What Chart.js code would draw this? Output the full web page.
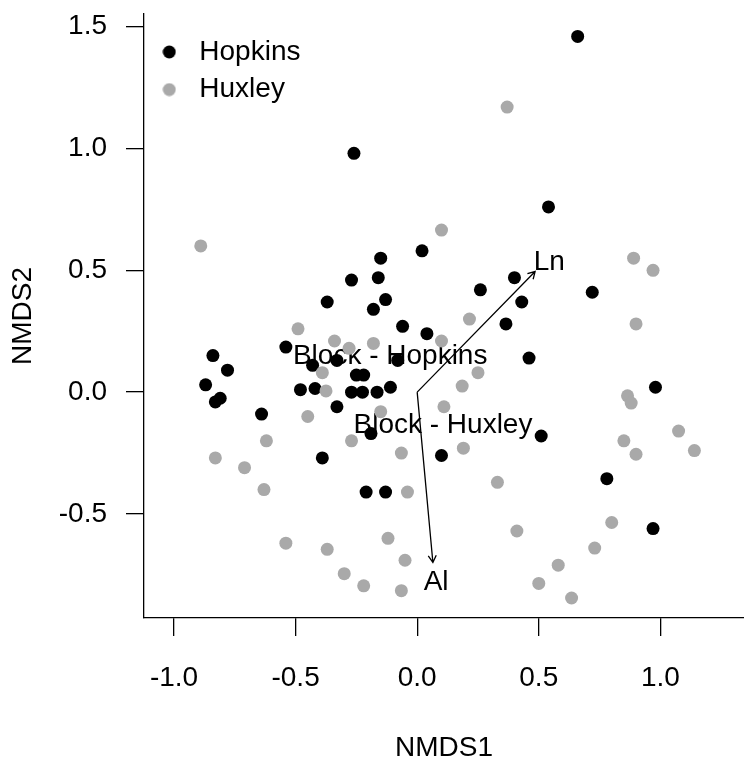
<!DOCTYPE html>
<html>
<head>
<meta charset="utf-8">
<script src="https://cdn.jsdelivr.net/npm/chart.js@4.4.1/dist/chart.umd.min.js"></script>
<style>
  html, body { margin: 0; padding: 0; background: #fff; overflow: hidden; }
  #wrap { width: 744px; height: 760px; }
</style>
</head>
<body>
<div id="wrap"><canvas id="c" width="744" height="760"></canvas></div>
<script>
// ---- data ----
const seriesNames = ['Hopkins', 'Huxley'];
const seriesColors = ['#000000', '#A9A9A9'];

const hopkinsX = [0.66, -0.26, 0.54, 0.02, -0.15, -0.27, -0.16, -0.37, -0.13, -0.18,
  -0.06, 0.04, -0.54, -0.08, -0.84, -0.78, -0.87, -0.83, -0.81, -0.64,
  -0.48, -0.42, -0.43, -0.33, -0.25, -0.22, -0.27, -0.225, -0.165, -0.11,
  -0.33, -0.19, -0.39, -0.21, -0.13, 0.10, 0.26, 0.40, 0.43, 0.365,
  0.46, 0.72, 0.51, 0.78, 0.98, 0.97];
const hopkinsY = [1.46, 0.98, 0.76, 0.58, 0.55, 0.46, 0.47, 0.37, 0.38, 0.34,
  0.27, 0.24, 0.185, 0.13, 0.15, 0.09, 0.03, -0.04, -0.025, -0.09,
  0.01, 0.015, 0.11, 0.13, 0.07, 0.07, 0.0, 0.0, 0.0, 0.02,
  -0.06, -0.17, -0.27, -0.41, -0.41, -0.26, 0.42, 0.47, 0.37, 0.28,
  0.14, 0.41, -0.18, -0.355, 0.02, -0.56];

const huxleyX = [0.37, -0.89, 0.10, -0.49, -0.34, -0.28, -0.18, 0.10, -0.39, -0.375,
  -0.45, -0.15, 0.11, 0.185, 0.25, 0.215, -0.27, -0.62, -0.83, -0.71,
  -0.065, 0.19, -0.63, -0.04, 0.33, -0.12, -0.54, -0.37, -0.05, -0.30,
  -0.22, -0.065, 0.41, 0.80, 0.73, 0.58, 0.50, 0.635, 0.89, 0.97,
  0.90, 0.865, 0.88, 0.85, 0.90, 1.075, 1.14];
const huxleyY = [1.17, 0.60, 0.665, 0.26, 0.21, 0.18, 0.20, 0.21, 0.08, 0.005,
  -0.10, -0.08, -0.06, 0.025, 0.08, 0.30, -0.20, -0.20, -0.27, -0.31,
  -0.25, -0.23, -0.40, -0.41, -0.37, -0.60, -0.62, -0.645, -0.69, -0.745,
  -0.795, -0.815, -0.57, -0.535, -0.64, -0.71, -0.785, -0.845, 0.55, 0.50,
  0.28, -0.015, -0.045, -0.20, -0.255, -0.16, -0.24];

// fitted vectors (arrows from the origin) and their labels
const vectorNames = ['Ln', 'Al'];
const vectorX = [0.485, 0.0646];
const vectorY = [0.495, -0.699];
const vectorLabelX = [0.543, 0.078];
const vectorLabelY = [0.534, -0.780];

// group (block) labels
const groupLabels = ['Block - Hopkins', 'Block - Huxley'];
const groupLabelX = [-0.111, 0.106];
const groupLabelY = [0.148, -0.138];

// axes
const xTicks = [-1.0, -0.5, 0.0, 0.5, 1.0];
const yTicks = [-0.5, 0.0, 0.5, 1.0, 1.5];
const xRange = [-1.1234, 1.344];
const yRange = [-0.927, 1.552];
const xTitle = 'NMDS1';
const yTitle = 'NMDS2';

// ---- chart ----
const FONT = "'Liberation Sans', Arial, Helvetica, sans-serif";
Chart.defaults.font.family = FONT;
Chart.defaults.font.size = 28;
Chart.defaults.color = '#000';

function toPoints(xs, ys) { return xs.map((x, i) => ({ x: x, y: ys[i] })); }

function makeDot(color) {
  const c = document.createElement('canvas');
  c.width = 14; c.height = 14;
  const g = c.getContext('2d');
  g.fillStyle = color;
  g.beginPath(); g.arc(7, 7, 6.5, 0, Math.PI * 2); g.fill();
  return c;
}

const annotations = {
  id: 'envfitAnnotations',
  beforeDatasetsDraw(chart) {
    const ctx = chart.ctx;
    const xs = chart.scales.x, ys = chart.scales.y;
    ctx.save();
    ctx.strokeStyle = '#000';
    ctx.lineWidth = 1.3;
    const x0 = xs.getPixelForValue(0), y0 = ys.getPixelForValue(0);
    vectorNames.forEach((n, i) => {
      const x1 = xs.getPixelForValue(vectorX[i]);
      const y1 = ys.getPixelForValue(vectorY[i]);
      const a = Math.atan2(y1 - y0, x1 - x0), L = 8, h = Math.PI / 6;
      ctx.beginPath();
      ctx.moveTo(x0, y0); ctx.lineTo(x1, y1);
      ctx.moveTo(x1 - L * Math.cos(a - h), y1 - L * Math.sin(a - h));
      ctx.lineTo(x1, y1);
      ctx.lineTo(x1 - L * Math.cos(a + h), y1 - L * Math.sin(a + h));
      ctx.stroke();
    });
    ctx.fillStyle = '#000';
    ctx.font = '28px ' + FONT;
    ctx.textAlign = 'center';
    ctx.textBaseline = 'middle';
    vectorNames.forEach((n, i) => {
      ctx.fillText(n, xs.getPixelForValue(vectorLabelX[i]), ys.getPixelForValue(vectorLabelY[i]));
    });
    groupLabels.forEach((t, i) => {
      ctx.fillText(t, xs.getPixelForValue(groupLabelX[i]), ys.getPixelForValue(groupLabelY[i]));
    });
    ctx.restore();
  }
};

const legendPlacer = {
  id: 'legendPlacer',
  afterLayout(chart) {
    const lg = chart.legend;
    if (!lg) return;
    lg.left = 143.7; lg.top = 28.4;
    lg.right = chart.chartArea.right; lg.bottom = chart.chartArea.bottom;
    lg.width = lg.right - lg.left; lg.height = lg.bottom - lg.top;
  }
};

function axisCommon(ticks, fitFn) {
  return {
    type: 'linear',
    bounds: 'data',
    afterBuildTicks: (s) => { s.ticks = ticks.map(v => ({ value: v })); },
    afterFit: fitFn,
    grid: {
      display: true, drawOnChartArea: false, drawTicks: true,
      tickLength: 18, color: '#000', tickColor: '#000', lineWidth: 1.3, tickWidth: 1.3
    },
    border: { display: true, color: '#000', width: 1.3 }
  };
}

const xScale = Object.assign(axisCommon(xTicks, (s) => {
  s.height = 142; s.paddingLeft = 0; s.paddingRight = 0; s.paddingTop = 0; s.paddingBottom = 0;
}), {
  position: 'bottom',
  min: xRange[0], max: xRange[1],
  ticks: { padding: 25, autoSkip: false, maxRotation: 0, color: '#000',
           font: { size: 28 }, callback: (v) => Number(v).toFixed(1) },
  title: { display: true, text: xTitle, color: '#000',
           font: { size: 28, lineHeight: 0.8 }, padding: { top: 0, bottom: 0.5 } }
});

const yScale = Object.assign(axisCommon(yTicks, (s) => {
  s.width = 144; s.paddingLeft = 0; s.paddingRight = 0; s.paddingTop = 0; s.paddingBottom = 0;
}), {
  position: 'left',
  min: yRange[0], max: yRange[1],
  ticks: { padding: 19, autoSkip: false, color: '#000',
           font: { size: 28 }, callback: (v) => Number(v).toFixed(1) },
  title: { display: true, text: yTitle, color: '#000',
           font: { size: 28, lineHeight: 1.2 }, padding: { top: 6.8, bottom: 0 } }
});

new Chart(document.getElementById('c'), {
  type: 'scatter',
  data: {
    datasets: [
      { label: seriesNames[0], data: toPoints(hopkinsX, hopkinsY), order: 1,
        backgroundColor: seriesColors[0], borderColor: seriesColors[0],
        pointRadius: 6.5, pointHoverRadius: 6.5, pointBorderWidth: 0 },
      { label: seriesNames[1], data: toPoints(huxleyX, huxleyY), order: 0,
        backgroundColor: seriesColors[1], borderColor: seriesColors[1],
        pointRadius: 6.5, pointHoverRadius: 6.5, pointBorderWidth: 0 }
    ]
  },
  options: {
    responsive: false,
    animation: false,
    devicePixelRatio: 1,
    events: [],
    layout: { autoPadding: false, padding: { top: 14, right: 0, bottom: 0, left: 0 } },
    scales: { x: xScale, y: yScale },
    plugins: {
      tooltip: { enabled: false },
      legend: {
        display: true,
        position: 'chartArea',
        align: 'start',
        labels: {
          usePointStyle: true,
          pointStyleWidth: 32,
          padding: 9.6,
          color: '#000',
          font: { size: 28 },
          sort: (a, b) => a.datasetIndex - b.datasetIndex,
          generateLabels: (chart) => {
            const items = Chart.defaults.plugins.legend.labels.generateLabels(chart);
            items.forEach((it) => { it.pointStyle = makeDot(seriesColors[it.datasetIndex]); });
            return items;
          }
        }
      }
    }
  },
  plugins: [annotations, legendPlacer]
});
</script>
</body>
</html>
